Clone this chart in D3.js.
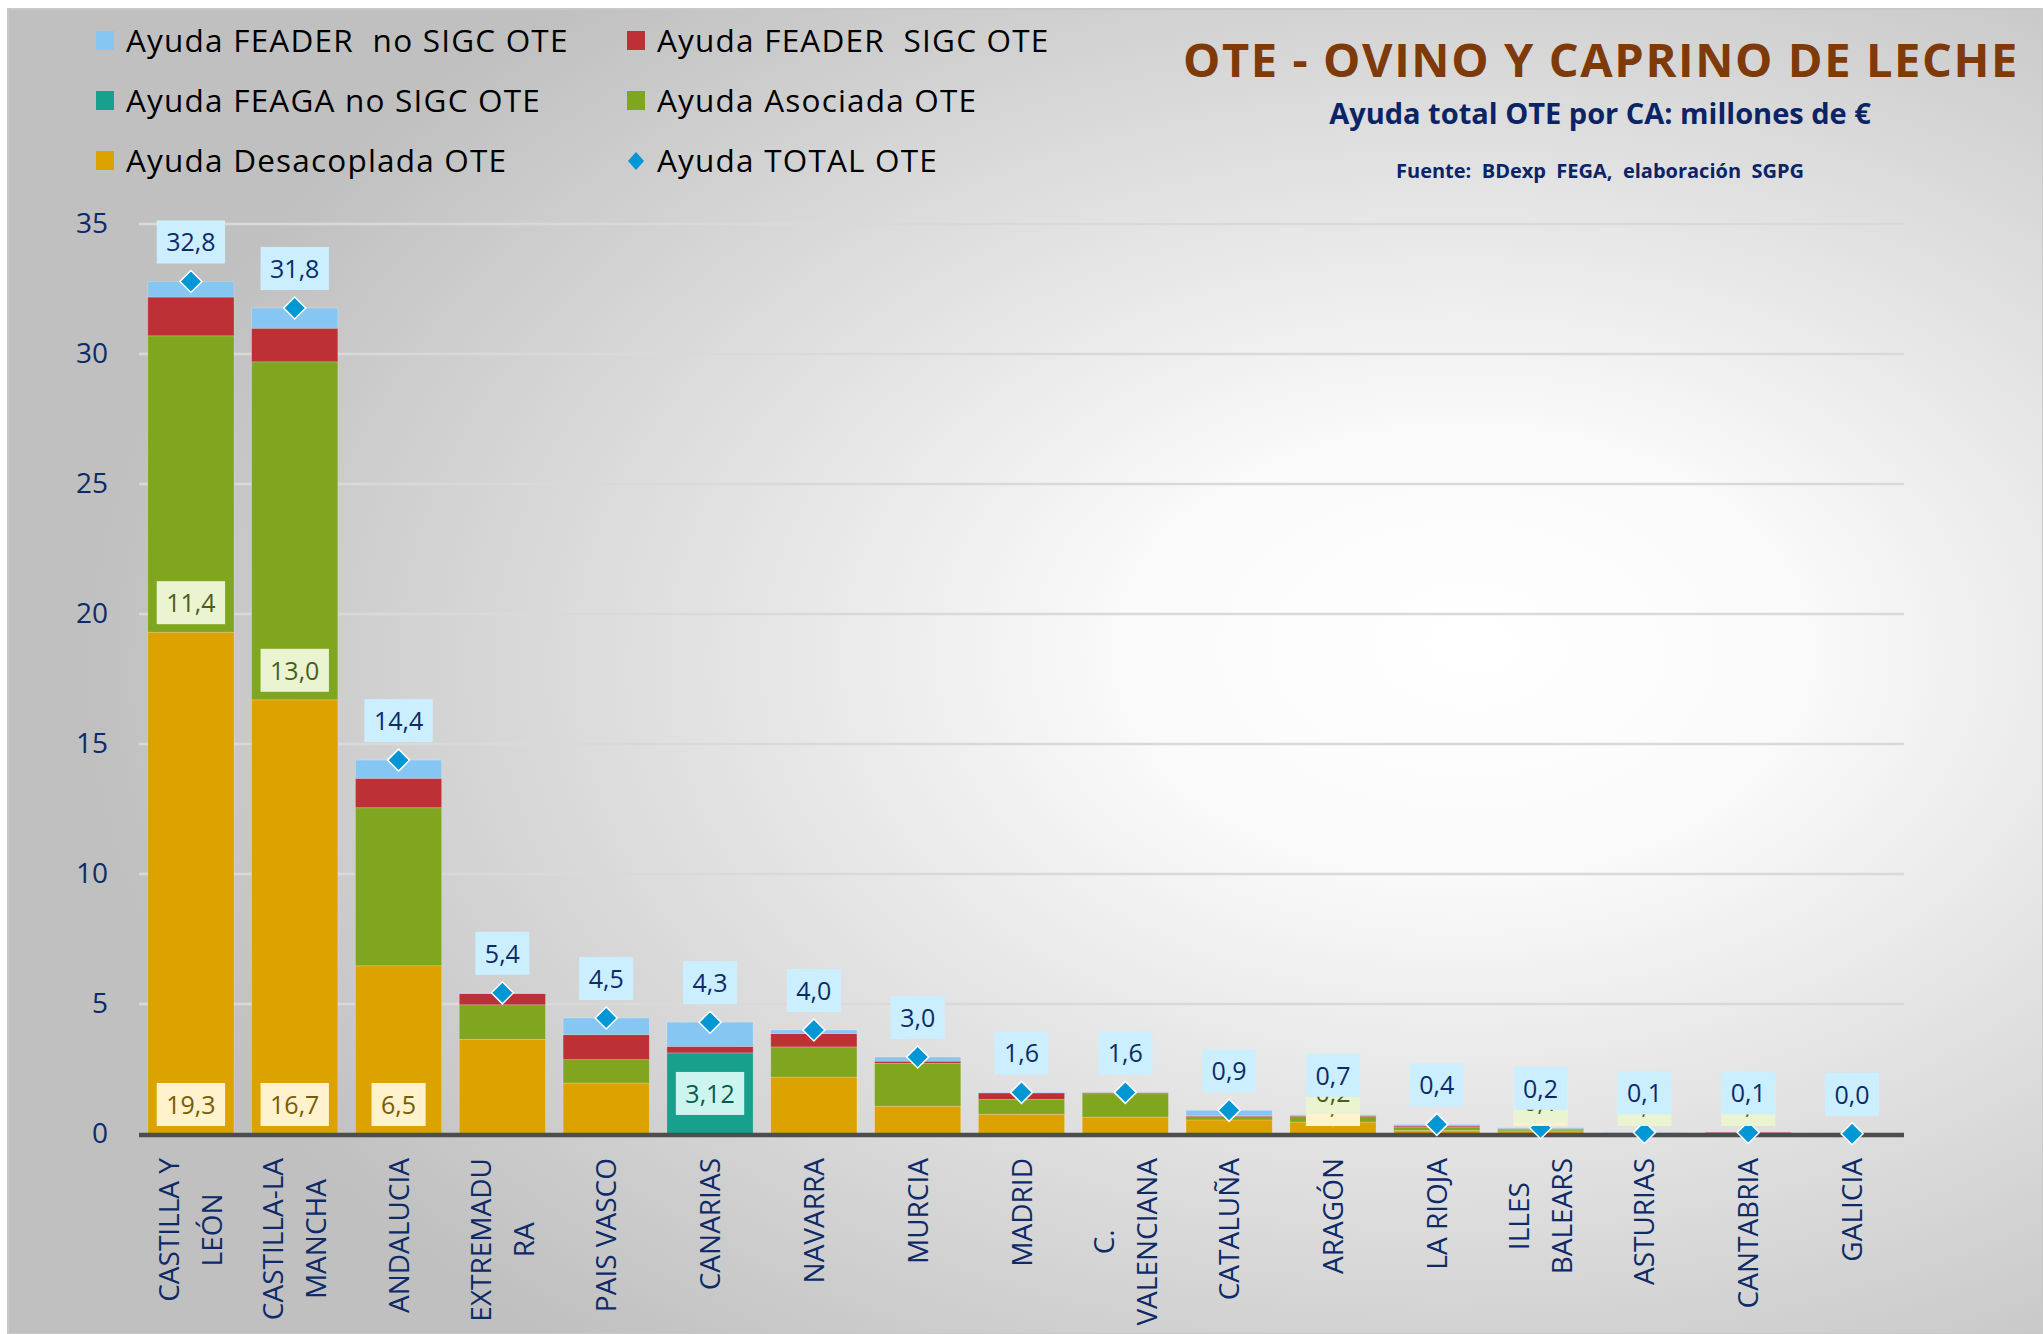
<!DOCTYPE html>
<html>
<head>
<meta charset="utf-8">
<script src="https://cdn.jsdelivr.net/npm/d3@7"></script>
<style>
  body { margin: 0; background: #fff; }
  svg { display: block; }
  text { font-family: "Open Sans", "Noto Sans", sans-serif; }
</style>
</head>
<body>
<script>
// --- datos (millones de euros) ---
let comunidades = ["CASTILLA Y LEÓN", "CASTILLA-LA MANCHA", "ANDALUCIA", "EXTREMADURA", "PAIS VASCO",
    "CANARIAS", "NAVARRA", "MURCIA", "MADRID", "C. VALENCIANA", "CATALUÑA", "ARAGÓN", "LA RIOJA",
    "ILLES BALEARS", "ASTURIAS", "CANTABRIA", "GALICIA"];
let etiquetasEje = [["CASTILLA Y", "LEÓN"], ["CASTILLA-LA", "MANCHA"], ["ANDALUCIA"], ["EXTREMADU", "RA"],
    ["PAIS VASCO"], ["CANARIAS"], ["NAVARRA"], ["MURCIA"], ["MADRID"], ["C.", "VALENCIANA"], ["CATALUÑA"],
    ["ARAGÓN"], ["LA RIOJA"], ["ILLES", "BALEARS"], ["ASTURIAS"], ["CANTABRIA"], ["GALICIA"]];

let desacoplada  = [19.3, 16.7, 6.47, 3.64, 1.96, 0,    2.19, 1.07, 0.76, 0.65, 0.54, 0.46, 0.14, 0.12, 0,    0,    0];
let asociada     = [11.4, 13.0, 6.08, 1.33, 0.90, 0,    1.16, 1.65, 0.57, 0.90, 0.13, 0.21, 0.13, 0.06, 0.02, 0.02, 0];
let feagaNoSigc  = [0,    0,    0,    0,    0,    3.12, 0,    0,    0,    0,    0,    0,    0,    0,    0,    0,    0];
let feaderSigc   = [1.49, 1.29, 1.13, 0.43, 0.96, 0.25, 0.51, 0.08, 0.25, 0.04, 0.04, 0.04, 0.04, 0.03, 0.01, 0.04, 0];
let feaderNoSigc = [0.60, 0.78, 0.70, 0.03, 0.64, 0.93, 0.14, 0.16, 0.02, 0.01, 0.20, 0.03, 0.06, 0.03, 0.03, 0,    0.01];
let totalOte     = [32.79, 31.77, 14.38, 5.43, 4.46, 4.30, 4.00, 2.96, 1.60, 1.60, 0.91, 0.74, 0.37, 0.24, 0.06, 0.06, 0.01];

let ticksY = [0, 5, 10, 15, 20, 25, 30, 35];

// qué barras llevan etiqueta en cada serie
let etiquetaDesacoplada = ["CASTILLA Y LEÓN", "CASTILLA-LA MANCHA", "ANDALUCIA", "ARAGÓN", "ILLES BALEARS"];
let etiquetaAsociada = ["CASTILLA Y LEÓN", "CASTILLA-LA MANCHA", "ARAGÓN", "ILLES BALEARS", "ASTURIAS", "CANTABRIA"];
let etiquetaFeaga = ["CANARIAS"];

let series = [
    {key: "desacoplada", nombre: "Ayuda Desacoplada OTE", color: "#DCA200"},
    {key: "asociada", nombre: "Ayuda Asociada OTE", color: "#80A51F"},
    {key: "feaga", nombre: "Ayuda FEAGA no SIGC OTE", color: "#17A08B"},
    {key: "sigc", nombre: "Ayuda FEADER  SIGC OTE", color: "#BC3036"},
    {key: "noSigc", nombre: "Ayuda FEADER  no SIGC OTE", color: "#86C6F3"}
];

let width = 2043;
let height = 1334;
let navy = "#0e2b68";

let es = d3.formatLocale({decimal: ",", thousands: ".", grouping: [3], currency: ["", " €"]});
let f1 = es.format(".1f");
let f2 = es.format(".2f");

let filas = comunidades.map(function (c, i) {
    return {ca: c, desacoplada: desacoplada[i], asociada: asociada[i], feaga: feagaNoSigc[i],
        sigc: feaderSigc[i], noSigc: feaderNoSigc[i], total: totalOte[i], i: i};
});

let svg = d3.select("body").append("svg")
    .attr("width", width)
    .attr("height", height);

// fondo con degradado radial
let defs = svg.append("defs");
let grad = defs.append("radialGradient")
    .attr("id", "fondo")
    .attr("cx", 0.7).attr("cy", 0.5).attr("r", 0.66)
    .attr("fx", 0.72).attr("fy", 0.48);
grad.append("stop").attr("offset", "0").attr("stop-color", "#ffffff");
grad.append("stop").attr("offset", "0.25").attr("stop-color", "#fafafa");
grad.append("stop").attr("offset", "1").attr("stop-color", "#c0c0c0");

svg.append("rect")
    .attr("x", 8).attr("y", 9)
    .attr("width", width - 8).attr("height", height - 9)
    .attr("fill", "url(#fondo)")
    .attr("stroke", "#c8c8c8")
    .attr("stroke-width", 2);

// escalas
let x = d3.scaleBand()
    .domain(comunidades)
    .range([139, 1904])
    .paddingInner(0.17)
    .paddingOuter(0.085);

let y = d3.scaleLinear()
    .domain([0, 35])
    .range([1134, 224]);

// rejilla
svg.append("g").selectAll("line")
    .data(ticksY.filter(function (t) { return t > 0; }))
    .enter()
    .append("line")
    .attr("x1", 139).attr("x2", 1904)
    .attr("y1", function (d) { return y(d); })
    .attr("y2", function (d) { return y(d); })
    .attr("stroke", "#d9d9d9")
    .attr("stroke-width", 2.5);

// eje Y (solo etiquetas)
let ejeY = svg.append("g")
    .attr("transform", "translate(108,0)")
    .call(d3.axisLeft(y).tickValues(ticksY).tickSize(0).tickPadding(0).tickFormat(d3.format("d")));
ejeY.select(".domain").remove();
ejeY.selectAll("text")
    .attr("fill", navy)
    .style("font-size", "28px")
    .style("font-family", "'Open Sans', sans-serif");

// barras apiladas
let stack = d3.stack().keys(series.map(function (s) { return s.key; }));
let apilado = stack(filas);

svg.append("g").selectAll("g")
    .data(apilado)
    .enter()
    .append("g")
    .attr("fill", function (d, i) { return series[i].color; })
    .selectAll("rect")
    .data(function (d) { return d; })
    .enter()
    .append("rect")
    .attr("x", function (d) { return x(d.data.ca); })
    .attr("width", x.bandwidth())
    .attr("y", function (d) { return y(d[1]); })
    .attr("height", function (d) { return Math.max(0, y(d[0]) - y(d[1])); })
    .attr("stroke", "rgba(255,255,255,0.25)")
    .attr("stroke-width", 0.8);

// eje X
svg.append("line")
    .attr("x1", 139).attr("x2", 1904)
    .attr("y1", y(0) + 1).attr("y2", y(0) + 1)
    .attr("stroke", "#4d4d4d")
    .attr("stroke-width", 4.5);

// rombos del total
let rombo = "M0,-11L11,0L0,11L-11,0Z";
svg.append("g").selectAll("path")
    .data(filas)
    .enter()
    .append("path")
    .attr("d", rombo)
    .attr("transform", function (d) { return "translate(" + (x(d.ca) + x.bandwidth() / 2) + "," + y(d.total) + ")"; })
    .attr("fill", "#0197D4")
    .attr("stroke", "#ffffff")
    .attr("stroke-width", 1.5);

// etiquetas con caja
function etiqueta(g, cx, yBottom, texto, fondo, color) {
    let grupo = g.append("g");
    let caja = grupo.append("rect");
    let t = grupo.append("text")
        .attr("x", cx)
        .attr("y", yBottom - 12)
        .attr("text-anchor", "middle")
        .attr("fill", color)
        .style("font-size", "25px")
        .text(texto);
    let w = t.node().getComputedTextLength() + 19;
    caja.attr("x", cx - w / 2).attr("y", yBottom - 43)
        .attr("width", w).attr("height", 43)
        .attr("fill", fondo);
}

let capaEtiquetas = svg.append("g");
filas.forEach(function (d) {
    if (etiquetaDesacoplada.indexOf(d.ca) >= 0) {
        etiqueta(capaEtiquetas, x(d.ca) + x.bandwidth() / 2, y(0) - 8, f1(d.desacoplada), "#FFF2CC", "#7a5c00");
    }
});
filas.forEach(function (d) {
    if (etiquetaAsociada.indexOf(d.ca) >= 0) {
        etiqueta(capaEtiquetas, x(d.ca) + x.bandwidth() / 2, y(d.desacoplada) - 8, f1(d.asociada), "#EBF4D1", "#4a5e1c");
    }
});
filas.forEach(function (d) {
    if (etiquetaFeaga.indexOf(d.ca) >= 0) {
        let base = d.desacoplada + d.asociada;
        let centro = (y(base) + y(base + d.feaga)) / 2;
        etiqueta(capaEtiquetas, x(d.ca) + x.bandwidth() / 2, centro + 21.5, f2(d.feaga), "#CCF5EF", "#0b5a4b");
    }
});
filas.forEach(function (d) {
    etiqueta(capaEtiquetas, x(d.ca) + x.bandwidth() / 2, y(d.total) - 18, f1(d.total), "#CBEFFF", navy);
});

// etiquetas del eje X (giradas)
let ejeX = svg.append("g");
etiquetasEje.forEach(function (lineas, i) {
    let cx = x(comunidades[i]) + x.bandwidth() / 2;
    let g = ejeX.append("g").attr("transform", "translate(" + cx + ",1158) rotate(-90)");
    let textos = lineas.map(function (l, k) {
        return g.append("text")
            .attr("text-anchor", "middle")
            .attr("fill", navy)
            .style("font-size", "28px")
            .attr("y", (k - (lineas.length - 1) / 2) * 43 + 10)
            .text(l);
    });
    let largo = d3.max(textos, function (t) { return t.node().getComputedTextLength(); });
    textos.forEach(function (t) { t.attr("x", -largo / 2); });
});

// leyenda
let leyenda = [
    [series[4], 96, 41], [series[3], 627, 41],
    [series[2], 96, 101], [series[1], 627, 101],
    [series[0], 96, 161], [{nombre: "Ayuda TOTAL OTE", rombo: true}, 627, 161]
];
let gl = svg.append("g");
leyenda.forEach(function (e) {
    let s = e[0];
    if (s.rombo) {
        gl.append("path")
            .attr("d", "M0,-9L8,0L0,9L-8,0Z")
            .attr("transform", "translate(" + (e[1] + 9) + "," + e[2] + ")")
            .attr("fill", "#0197D4");
    } else {
        gl.append("rect")
            .attr("x", e[1]).attr("y", e[2] - 10)
            .attr("width", 18).attr("height", 19)
            .attr("fill", s.color);
    }
    gl.append("text")
        .attr("x", e[1] + 30)
        .attr("y", e[2] + 11)
        .attr("fill", "#000")
        .style("font-size", "31.5px")
        .style("letter-spacing", "1.2px")
        .style("white-space", "pre")
        .text(s.nombre);
});

// títulos
svg.append("text")
    .attr("x", 1601).attr("y", 77)
    .attr("text-anchor", "middle")
    .attr("fill", "#7E3A08")
    .style("font-size", "47px")
    .style("font-weight", "bold")
    .style("letter-spacing", "1.6px")
    .text("OTE - OVINO Y CAPRINO DE LECHE");

svg.append("text")
    .attr("x", 1600).attr("y", 124)
    .attr("text-anchor", "middle")
    .attr("fill", "#0b2466")
    .style("font-size", "29px")
    .style("font-weight", "bold")
    .text("Ayuda total OTE por CA: millones de €");

svg.append("text")
    .attr("x", 1600).attr("y", 178)
    .attr("text-anchor", "middle")
    .attr("fill", "#0b2466")
    .style("font-size", "20px")
    .style("font-weight", "bold")
    .style("white-space", "pre")
    .text("Fuente:  BDexp  FEGA,  elaboración  SGPG");
</script>
</body>
</html>
